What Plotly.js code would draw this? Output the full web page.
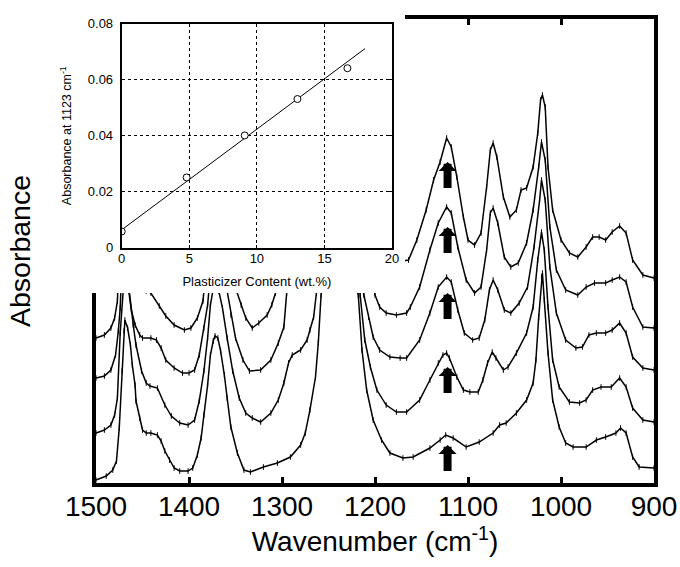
<!DOCTYPE html>
<html>
<head>
<meta charset="utf-8">
<script src="https://cdn.plot.ly/plotly-3.0.1.min.js"></script>
<style>html,body{margin:0;padding:0;background:#fff}#chart{width:680px;height:567px}</style>
</head>
<body>
<div id="chart"></div>
<script>
// ---------- main spectra (wavenumber, absorbance in a.u.) ----------
const wn1 = [1500,1489,1482,1478,1475,1472,1470,1469,1466,1463,1461,1458,1457,1453,1450,1446,1441,1434,1430,1426,1421,1416,1410,1401,1396,1391,1387,1384,1380,1377,1374,1372,1369,1366,1362,1359,1355,1348,1341,1334,1320,1305,1291,1280,1275,1270,1264,1261,1258,1252,1240,1228,1218,1214,1209,1202,1193,1184,1170,1159,1141,1130,1124,1116,1102,1088,1073,1066,1059,1048,1037,1030,1027,1024,1021,1020,1018,1014,1009,1002,995,987,973,962,952,941,936,930,923,916,900];
const abs1 = [.003,.007,.013,.022,.055,.112,.152,.163,.155,.138,.118,.098,.082,.065,.053,.050,.050,.048,.042,.032,.023,.015,.012,.012,.015,.028,.045,.068,.098,.128,.142,.147,.145,.132,.108,.085,.056,.030,.013,.011,.016,.020,.026,.038,.050,.073,.106,.140,.188,.235,.265,.225,.188,.133,.093,.063,.043,.030,.025,.026,.035,.043,.048,.045,.036,.041,.050,.058,.060,.070,.083,.100,.123,.166,.206,.210,.183,.130,.083,.056,.040,.036,.036,.043,.046,.050,.055,.050,.026,.016,.015];

const wn2 = [1500,1491,1484,1480,1477,1474,1469,1464,1460,1457,1451,1446,1442,1434,1426,1419,1410,1401,1394,1389,1384,1380,1377,1372,1368,1364,1359,1353,1346,1339,1332,1323,1312,1304,1298,1293,1289,1280,1273,1270,1266,1263,1252,1240,1228,1216,1211,1205,1198,1188,1177,1166,1152,1141,1132,1127,1123,1120,1112,1105,1098,1089,1084,1079,1074,1070,1062,1057,1048,1037,1030,1025,1021,1018,1014,1009,1002,991,980,973,966,957,946,937,930,923,912,900];
const abs2 = [.050,.053,.058,.068,.085,.150,.215,.190,.158,.138,.112,.100,.097,.095,.078,.067,.060,.058,.063,.082,.112,.145,.178,.205,.192,.175,.145,.112,.085,.070,.065,.061,.070,.083,.100,.120,.128,.133,.143,.153,.166,.190,.290,.320,.280,.188,.143,.116,.093,.078,.071,.071,.083,.103,.120,.128,.130,.125,.106,.093,.091,.091,.103,.120,.131,.125,.113,.116,.130,.150,.176,.223,.251,.233,.176,.123,.096,.081,.080,.083,.093,.096,.096,.105,.096,.075,.063,.061];

const wn3 = [1500,1491,1484,1479,1476,1474,1470,1466,1462,1458,1453,1450,1441,1435,1430,1425,1416,1407,1400,1394,1389,1384,1380,1372,1360,1355,1350,1342,1335,1323,1312,1304,1298,1295,1270,1245,1230,1212,1207,1202,1195,1184,1173,1166,1152,1141,1132,1123,1118,1111,1104,1095,1088,1082,1077,1073,1068,1061,1054,1045,1036,1029,1023,1021,1017,1012,1005,995,984,977,970,962,952,945,937,930,923,912,900];
const abs3 = [.105,.107,.113,.128,.152,.175,.270,.200,.173,.158,.148,.145,.145,.143,.135,.123,.115,.110,.110,.113,.128,.155,.178,.260,.195,.168,.145,.123,.112,.113,.123,.140,.156,.190,.300,.360,.330,.188,.166,.146,.133,.126,.125,.125,.143,.170,.196,.206,.201,.173,.150,.143,.145,.163,.193,.203,.193,.173,.170,.180,.196,.236,.283,.303,.283,.216,.170,.143,.135,.136,.148,.150,.150,.153,.160,.150,.126,.115,.113];

const wn4 = [1500,1491,1484,1480,1477,1472,1469,1465,1460,1446,1441,1432,1425,1416,1405,1398,1391,1385,1380,1372,1365,1350,1344,1339,1332,1325,1316,1311,1307,1290,1245,1210,1200,1195,1188,1177,1166,1162,1152,1141,1132,1123,1118,1111,1102,1093,1086,1080,1076,1073,1068,1061,1054,1046,1037,1030,1024,1021,1017,1012,1005,995,982,973,964,952,945,937,930,923,912,900];
const abs4 = [.145,.148,.155,.165,.182,.300,.320,.290,.240,.192,.190,.177,.167,.158,.153,.155,.165,.182,.230,.290,.250,.195,.178,.165,.155,.160,.168,.178,.190,.260,.400,.260,.188,.176,.170,.168,.170,.176,.196,.233,.260,.276,.270,.236,.203,.190,.196,.233,.270,.275,.260,.226,.216,.220,.240,.273,.316,.341,.323,.256,.213,.193,.188,.196,.200,.200,.203,.206,.201,.176,.156,.155];

const wn5 = [1500,1490,1482,1477,1470,1464,1455,1445,1435,1425,1410,1400,1390,1380,1372,1362,1350,1340,1330,1315,1300,1290,1270,1245,1220,1205,1190,1178,1170,1164,1155,1145,1137,1130,1123,1118,1112,1105,1100,1093,1086,1080,1076,1073,1069,1062,1055,1048,1043,1037,1030,1025,1022,1020,1017,1014,1009,1000,991,982,973,966,959,952,945,937,930,923,912,900];
const abs5 = [.195,.198,.206,.230,.370,.300,.250,.240,.230,.215,.205,.203,.215,.280,.340,.280,.240,.210,.205,.215,.240,.270,.360,.450,.360,.280,.245,.225,.222,.223,.243,.273,.303,.321,.345,.336,.306,.266,.243,.238,.250,.296,.333,.340,.326,.286,.266,.273,.293,.295,.316,.350,.383,.388,.376,.316,.273,.243,.230,.226,.236,.246,.246,.243,.251,.257,.250,.223,.208,.205];

// arrows marking the 1123 cm-1 band (tip positions)
const arrowWn = 1122;
const arrowTips = [.321, .256, .190, .116, .038];

const xTicks = [1500, 1400, 1300, 1200, 1100, 1000, 900];

// ---------- inset ----------
const plasticizer = [0, 4.8, 9.1, 13.0, 16.7];
const abs1123 = [0.0058, 0.0251, 0.0401, 0.0531, 0.0641];
const fitX = [0, 18];
const fitY = [0.0064, 0.0711];

const FONT = 'Arial, "Liberation Sans", sans-serif';

const spectra = [[wn1, abs1], [wn2, abs2], [wn3, abs3], [wn4, abs4], [wn5, abs5]];
const traces = spectra.map(([x, y]) => ({
  x: x, y: y, xaxis: 'x', yaxis: 'y',
  type: 'scatter', mode: 'lines+markers',
  line: {color: '#000', width: 1.5},
  marker: {symbol: 'line-ns', size: 4, color: '#000', line: {color: '#000', width: 1}},
  hoverinfo: 'skip'
}));

// empty trace that creates the blank (white) subplot behind the inset
traces.push({
  x: [], y: [], xaxis: 'x2', yaxis: 'y2',
  type: 'scatter', mode: 'lines', hoverinfo: 'skip'
});

traces.push({
  x: fitX, y: fitY, xaxis: 'x3', yaxis: 'y3',
  type: 'scatter', mode: 'lines',
  line: {color: '#000', width: 1}, hoverinfo: 'skip'
});
traces.push({
  x: plasticizer, y: abs1123, xaxis: 'x3', yaxis: 'y3',
  type: 'scatter', mode: 'markers',
  marker: {symbol: 'circle', size: 7, color: '#fff', line: {color: '#000', width: 1}},
  hoverinfo: 'skip'
});

const annotations = arrowTips.map(t => ({
  x: arrowWn, y: t, xref: 'x', yref: 'y',
  ax: 0, ay: 28, showarrow: true,
  arrowhead: 1, arrowwidth: 8, arrowsize: 0.375, arrowcolor: '#000',
  text: ' ', font: {size: 1}, standoff: 0
}));

const layout = {
  width: 680, height: 567,
  margin: {l: 0, r: 0, t: 0, b: 0},
  paper_bgcolor: '#fff', plot_bgcolor: '#fff',
  showlegend: false,
  font: {family: FONT, color: '#000'},
  xaxis: {
    domain: [0.1412, 0.9618], anchor: 'y',
    range: [1500, 900], tickvals: xTicks,
    ticks: 'inside', ticklen: 6, tickwidth: 3, tickcolor: '#000',
    showline: true, linewidth: 4, linecolor: '#000', mirror: 'ticks',
    showgrid: false, zeroline: false,
    tickfont: {size: 28, family: FONT}, ticklabelstandoff: -5,
    title: {text: 'Wavenumber (cm<sup>-1</sup>)', font: {size: 28, family: FONT}, standoff: 12}
  },
  yaxis: {
    domain: [0.1481, 0.9665], anchor: 'x',
    range: [0, 0.464],
    showticklabels: false, ticks: '',
    showline: true, linewidth: 4, linecolor: '#000', mirror: true,
    showgrid: false, zeroline: false,
    title: {text: 'Absorbance', font: {size: 28.5, family: FONT}, standoff: 54}
  },
  // white cover behind the inset
  xaxis2: {domain: [0.1147, 0.5956], anchor: 'y2', range: [0, 1], fixedrange: true,
           showline: false, showticklabels: false, ticks: '', showgrid: false, zeroline: false},
  yaxis2: {domain: [0.4832, 1.0], anchor: 'x2', range: [0, 1], fixedrange: true,
           showline: false, showticklabels: false, ticks: '', showgrid: false, zeroline: false},
  // inset
  xaxis3: {
    domain: [0.1790, 0.5765], anchor: 'y3',
    range: [0, 20], dtick: 5, tick0: 0,
    showgrid: true, gridcolor: '#000', gridwidth: 1, griddash: 'dot',
    showline: true, linewidth: 2, linecolor: '#000', mirror: 'ticks',
    ticks: 'inside', ticklen: 3, tickwidth: 1, tickcolor: '#000',
    zeroline: false,
    tickfont: {size: 13, family: FONT}, ticklabelstandoff: -2,
    title: {text: 'Plasticizer Content (wt.%)', font: {size: 13, family: FONT}, standoff: 12}
  },
  yaxis3: {
    domain: [0.5631, 0.9582], anchor: 'x3',
    range: [0, 0.08], dtick: 0.02, tick0: 0,
    showgrid: true, gridcolor: '#000', gridwidth: 1, griddash: 'dot',
    showline: true, linewidth: 2, linecolor: '#000', mirror: 'ticks',
    ticks: 'inside', ticklen: 3, tickwidth: 1, tickcolor: '#000',
    zeroline: false,
    tickfont: {size: 13, family: FONT}, ticklabelstandoff: 4,
    title: {text: 'Absorbance at 1123 cm<sup>-1</sup>', font: {size: 12.5, family: FONT}, standoff: 13}
  },
  annotations: annotations
};

Plotly.newPlot('chart', traces, layout, {staticPlot: true, displayModeBar: false});
</script>
</body>
</html>
